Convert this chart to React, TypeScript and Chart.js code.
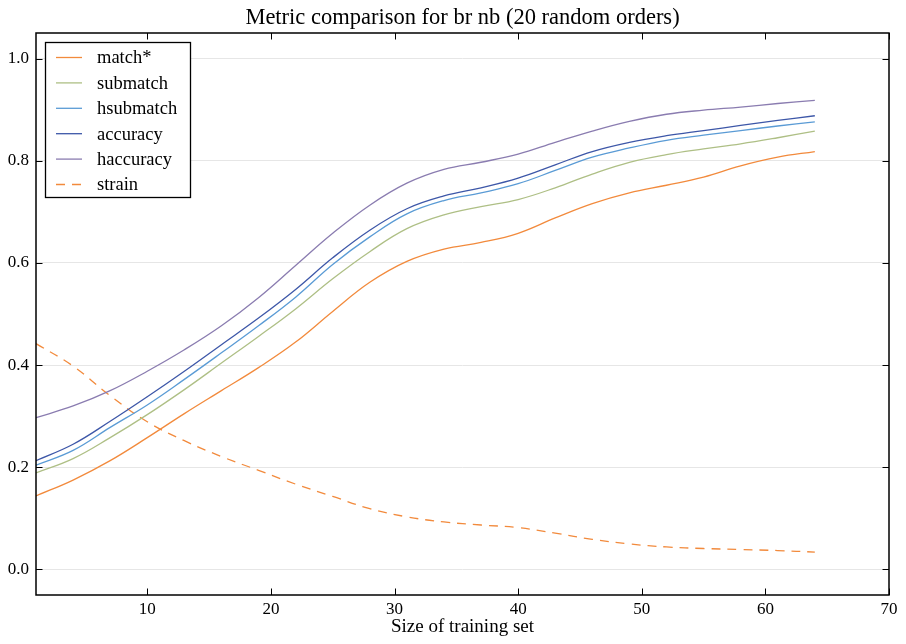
import React, { useEffect, useRef } from "react";
import { Chart, registerables } from "chart.js";

Chart.register(...registerables);

const sizes = [1, 4, 7, 10, 13, 16, 19, 22, 25, 28, 31, 34, 37, 40, 43, 46, 49, 52, 55, 58, 61, 64];
const matchStar = [0.144, 0.175, 0.213, 0.258, 0.305, 0.350, 0.395, 0.445, 0.505, 0.562, 0.603, 0.627, 0.640, 0.658, 0.688, 0.716, 0.737, 0.752, 0.768, 0.790, 0.807, 0.818];
const submatch = [0.189, 0.217, 0.258, 0.303, 0.352, 0.404, 0.456, 0.510, 0.569, 0.622, 0.667, 0.694, 0.710, 0.724, 0.747, 0.774, 0.797, 0.812, 0.823, 0.833, 0.845, 0.858];
const hsubmatch = [0.204, 0.233, 0.278, 0.322, 0.372, 0.424, 0.477, 0.533, 0.597, 0.651, 0.696, 0.722, 0.737, 0.755, 0.781, 0.807, 0.825, 0.840, 0.850, 0.859, 0.868, 0.876];
const accuracy = [0.213, 0.245, 0.290, 0.338, 0.388, 0.440, 0.492, 0.548, 0.610, 0.664, 0.706, 0.731, 0.747, 0.766, 0.792, 0.818, 0.836, 0.849, 0.859, 0.869, 0.879, 0.888];
const haccuracy = [0.297, 0.320, 0.350, 0.388, 0.430, 0.477, 0.532, 0.595, 0.658, 0.713, 0.756, 0.783, 0.797, 0.813, 0.836, 0.858, 0.877, 0.891, 0.899, 0.905, 0.912, 0.918];
const strain = [0.442, 0.398, 0.340, 0.289, 0.252, 0.221, 0.194, 0.167, 0.143, 0.119, 0.103, 0.093, 0.087, 0.082, 0.071, 0.059, 0.050, 0.044, 0.041, 0.039, 0.037, 0.034];

const xTicks = [10, 20, 30, 40, 50, 60, 70];
const yTicks = [0.0, 0.2, 0.4, 0.6, 0.8, 1.0];

const titleText = "Metric comparison for br nb (20 random orders)";
const xLabelText = "Size of training set";

const FONT = "'Liberation Serif', 'Times New Roman', serif";

const series = [
  { label: "match*", data: matchStar, color: "#f28a3c", dash: [] as number[] },
  { label: "submatch", data: submatch, color: "#aebf85", dash: [] as number[] },
  { label: "hsubmatch", data: hsubmatch, color: "#5a9bd5", dash: [] as number[] },
  { label: "accuracy", data: accuracy, color: "#3d57a8", dash: [] as number[] },
  { label: "haccuracy", data: haccuracy, color: "#8a7cb0", dash: [] as number[] },
  { label: "strain", data: strain, color: "#f28a3c", dash: [9, 7] },
];

const framePlugin = {
  id: "framePlugin",
  afterDraw(chart: any) {
    const { ctx, chartArea: a, scales } = chart;
    const xs = scales.x;
    const ys = scales.y;
    ctx.save();
    ctx.strokeStyle = "#000";
    ctx.lineWidth = 1;
    const tl = 6.5;
    xTicks.forEach((v) => {
      const px = Math.round(xs.getPixelForValue(v)) + 0.5;
      ctx.beginPath();
      ctx.moveTo(px, a.bottom);
      ctx.lineTo(px, a.bottom - tl);
      ctx.moveTo(px, a.top);
      ctx.lineTo(px, a.top + tl);
      ctx.stroke();
    });
    yTicks.forEach((v) => {
      const py = Math.round(ys.getPixelForValue(v)) + 0.5;
      ctx.beginPath();
      ctx.moveTo(a.left, py);
      ctx.lineTo(a.left + tl, py);
      ctx.moveTo(a.right, py);
      ctx.lineTo(a.right - tl, py);
      ctx.stroke();
    });
    ctx.lineWidth = 1.5;
    ctx.strokeRect(a.left, a.top, a.right - a.left, a.bottom - a.top);

    ctx.fillStyle = "#000";
    ctx.font = `22.5px ${FONT}`;
    ctx.textAlign = "center";
    ctx.textBaseline = "alphabetic";
    ctx.fillText(titleText, (a.left + a.right) / 2, 24);
    ctx.font = `19px ${FONT}`;
    ctx.fillText(xLabelText, (a.left + a.right) / 2, 632);

    const lx = 45.5, ly = 42.5, lw = 145, lh = 155;
    ctx.fillStyle = "#fff";
    ctx.fillRect(lx, ly, lw, lh);
    ctx.strokeStyle = "#000";
    ctx.lineWidth = 1.3;
    ctx.strokeRect(lx, ly, lw, lh);
    ctx.font = `18.5px ${FONT}`;
    ctx.textAlign = "left";
    ctx.textBaseline = "middle";
    chart.data.datasets.forEach((ds: any, i: number) => {
      const y = 57.5 + i * 25.4;
      ctx.strokeStyle = ds.borderColor;
      ctx.lineWidth = 1.3;
      ctx.setLineDash(ds.borderDash || []);
      ctx.beginPath();
      ctx.moveTo(56, y);
      ctx.lineTo(82, y);
      ctx.stroke();
      ctx.setLineDash([]);
      ctx.fillStyle = "#000";
      ctx.fillText(ds.label, 97, y + 1);
    });
    ctx.restore();
  },
};

export default function App() {
  const ref = useRef<HTMLCanvasElement | null>(null);
  useEffect(() => {
    document.body.style.margin = "0";
    const canvas = ref.current;
    if (!canvas) return;
    const chart = new Chart(canvas, {
      type: "line",
      data: {
        datasets: series.map((s) => ({
          label: s.label,
          data: sizes.map((x, i) => ({ x, y: s.data[i] })),
          borderColor: s.color,
          backgroundColor: s.color,
          borderWidth: 1.3,
          borderDash: s.dash,
          pointRadius: 0,
          tension: 0.4,
          fill: false,
        })),
      },
      options: {
        animation: false,
        responsive: false,
        devicePixelRatio: 1,
        layout: { padding: { left: 0, right: 17, top: 33, bottom: 0 } },
        plugins: {
          legend: { display: false },
          title: { display: false },
          tooltip: { enabled: false },
        },
        scales: {
          x: {
            type: "linear",
            min: 1,
            max: 70,
            afterBuildTicks: (s: any) => {
              s.ticks = xTicks.map((v) => ({ value: v }));
            },
            afterFit: (s: any) => {
              s.height = 49;
            },
            grid: { display: false, drawTicks: false },
            border: { display: false },
            ticks: {
              padding: 4,
              color: "#000",
              font: { family: FONT, size: 17 },
              callback: (v: any) => String(v),
              maxRotation: 0,
            },
          },
          y: {
            type: "linear",
            min: -0.05,
            max: 1.05,
            afterBuildTicks: (s: any) => {
              s.ticks = yTicks.map((v) => ({ value: v }));
            },
            afterFit: (s: any) => {
              s.width = 36;
            },
            grid: { color: "#e6e6e6", lineWidth: 1, drawTicks: false },
            border: { display: false },
            ticks: {
              padding: 7,
              color: "#000",
              font: { family: FONT, size: 17 },
              callback: (v: any) => Number(v).toFixed(1),
            },
          },
        },
      },
      plugins: [framePlugin],
    });
    return () => chart.destroy();
  }, []);
  return (
    <div style={{ width: 906, height: 644 }}>
      <canvas ref={ref} width={906} height={644} style={{ display: "block" }} />
    </div>
  );
}
